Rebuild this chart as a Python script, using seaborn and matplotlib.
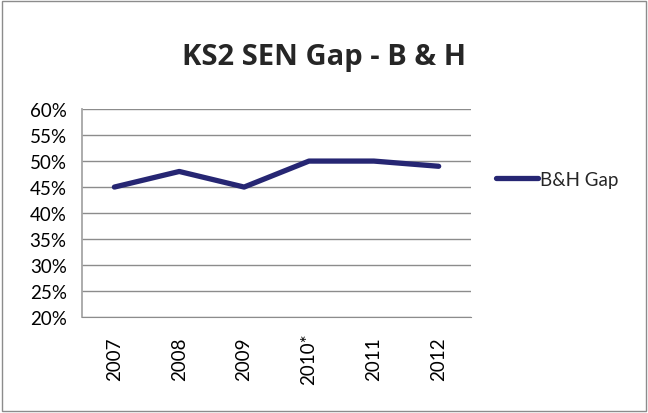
import matplotlib
matplotlib.use("Agg")
import matplotlib.pyplot as plt
import seaborn as sns
from matplotlib.patches import Rectangle
from matplotlib.ticker import FuncFormatter

years = ["2007", "2008", "2009", "2010*", "2011", "2012"]
gap = [0.45, 0.48, 0.45, 0.50, 0.50, 0.49]
series_name = "B&H Gap"
title = "KS2 SEN Gap - B & H"

sns.set_style("white")
plt.rcParams["font.family"] = ["Lato", "DejaVu Sans"]

fig = plt.figure(figsize=(6.48, 4.14), dpi=100)
ax = fig.add_axes([0.1265, 0.232, 0.6005, 0.502])

sns.lineplot(x=years, y=gap, ax=ax, color="#262673", linewidth=3.8,
             label=series_name, sort=False, legend=False)

ax.set_ylim(0.20, 0.60)
ax.set_yticks([0.20 + 0.05 * i for i in range(9)])
ax.yaxis.set_major_formatter(FuncFormatter(lambda v, p: f"{v * 100:.0f}%"))
ax.set_xlim(-0.5, 5.5)
ax.grid(axis="y", color="#8c8c8c", linewidth=1)
ax.set_axisbelow(True)
for s in ["top", "right"]:
    ax.spines[s].set_visible(False)
ax.spines["left"].set_color("#a6a6a6")
ax.spines["left"].set_linewidth(1.3)
ax.spines["bottom"].set_color("#8c8c8c")
ax.tick_params(axis="both", length=0, labelsize=13.5, colors="black")
ax.tick_params(axis="y", pad=11)
ax.tick_params(axis="x", pad=30)
plt.setp(ax.get_xticklabels(), rotation=90, va="center", ha="center")

fig.text(0.50, 0.86, title, ha="center", va="center", fontsize=21,
         fontweight="bold", family=["Open Sans", "DejaVu Sans"])

fig.legend(loc="center left", bbox_to_anchor=(0.74, 0.565), frameon=False,
           fontsize=13.5, handlelength=2.2, handletextpad=0.15)

fig.patches.append(Rectangle((0.003, 0.004), 0.994, 0.992, transform=fig.transFigure,
                             fill=False, edgecolor="#8c8c8c", linewidth=1))

fig.savefig("out.png", dpi=100)
